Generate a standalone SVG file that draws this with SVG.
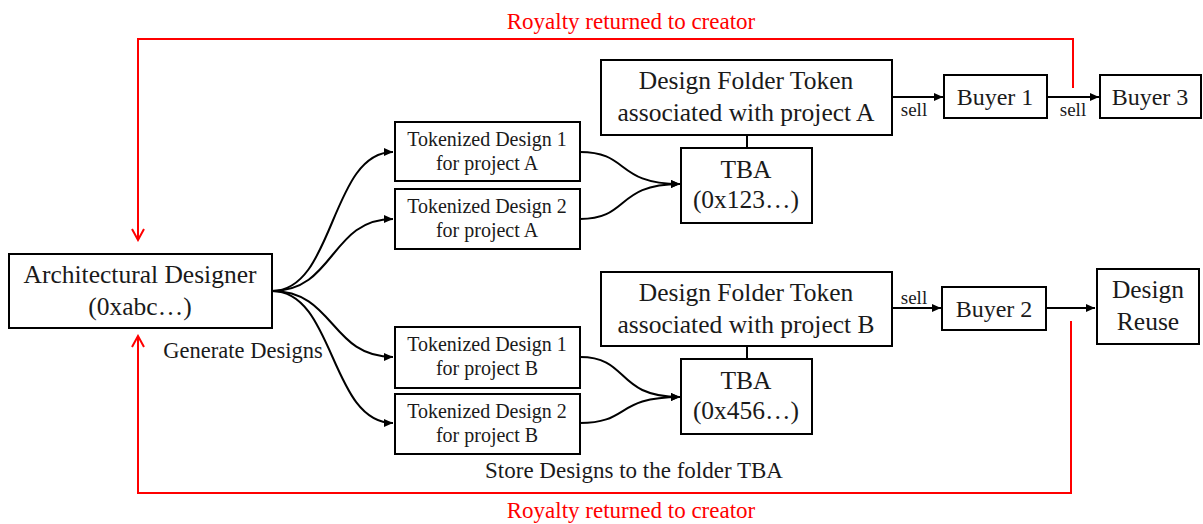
<svg xmlns="http://www.w3.org/2000/svg" width="1203" height="524" viewBox="0 0 1203 524">
<style>
.box{fill:#fff;stroke:#000;stroke-width:2}
.t{font-family:"Liberation Serif",serif;fill:#1a1a1a;text-anchor:middle}
.big{font-size:25.5px}
.mid{font-size:20px}
.lbl{font-size:19px}
.red{fill:#ff0000;font-size:23px}
.c{fill:none;stroke:#000;stroke-width:2}
.r{fill:none;stroke:#ff0000;stroke-width:2}
</style>
<defs>
<marker id="ah" markerWidth="10" markerHeight="10" refX="9" refY="5" orient="auto" markerUnits="userSpaceOnUse">
<path d="M0,1 L9,5 L0,9 Z" fill="#000"/>
</marker>
<marker id="rh" markerWidth="14" markerHeight="14" refX="12" refY="7" orient="auto" markerUnits="userSpaceOnUse">
<path d="M1,1 L12,7 L1,13" fill="none" stroke="#ff0000" stroke-width="2"/>
</marker>
</defs>
<g id="connectors">
<path class="c" d="M272,291 C335,291 330,152 393,152" marker-end="url(#ah)"/>
<path class="c" d="M272,291 C335,291 330,219 393,219" marker-end="url(#ah)"/>
<path class="c" d="M272,291 C335,291 330,357 393,357" marker-end="url(#ah)"/>
<path class="c" d="M272,291 C335,291 330,423 393,423" marker-end="url(#ah)"/>
<path class="c" d="M580,152 C630,152 615,184 680,184" marker-end="url(#ah)"/>
<path class="c" d="M580,219 C630,219 615,184 680,184" marker-end="url(#ah)"/>
<path class="c" d="M580,357 C630,357 615,397 680,397" marker-end="url(#ah)"/>
<path class="c" d="M580,423 C630,423 615,397 680,397" marker-end="url(#ah)"/>
<line class="c" x1="747" y1="135" x2="747" y2="148"/>
<line class="c" x1="747" y1="346" x2="747" y2="359"/>
<line class="c" x1="892" y1="97" x2="943" y2="97" marker-end="url(#ah)"/>
<line class="c" x1="1047" y1="97" x2="1099" y2="97" marker-end="url(#ah)"/>
<line class="c" x1="892" y1="308" x2="941" y2="308" marker-end="url(#ah)"/>
<line class="c" x1="1046" y1="308" x2="1095" y2="308" marker-end="url(#ah)"/>
<text class="t lbl" x="914" y="116">sell</text>
<text class="t lbl" x="1073" y="116">sell</text>
<text class="t lbl" x="914" y="304">sell</text>
<polyline class="r" points="1073,88 1073,39 138,39 138,240" marker-end="url(#rh)"/>
<polyline class="r" points="1071,321 1071,493 138,493 138,336" marker-end="url(#rh)"/>
<text class="t red" x="631" y="29">Royalty returned to creator</text>
<text class="t red" x="631" y="518">Royalty returned to creator</text>
<text class="t" style="font-size:22.5px" x="243" y="358">Generate Designs</text>
<text class="t" style="font-size:23px" x="634" y="478">Store Designs to the folder TBA</text>
</g>
<g id="designer">
<rect class="box" x="9" y="254" width="263" height="74"/>
<text class="t big" x="140" y="283">Architectural Designer</text>
<text class="t big" x="140" y="315">(0xabc…)</text>
</g>
<g id="td1a">
<rect class="box" x="395" y="122" width="185" height="59"/>
<text class="t mid" x="487" y="146">Tokenized Design 1</text>
<text class="t mid" x="487" y="170">for project A</text>
</g>
<g id="td2a">
<rect class="box" x="395" y="189" width="185" height="60"/>
<text class="t mid" x="487" y="213">Tokenized Design 2</text>
<text class="t mid" x="487" y="237">for project A</text>
</g>
<g id="td1b">
<rect class="box" x="395" y="327" width="185" height="61"/>
<text class="t mid" x="487" y="351">Tokenized Design 1</text>
<text class="t mid" x="487" y="375">for project B</text>
</g>
<g id="td2b">
<rect class="box" x="395" y="394" width="185" height="60"/>
<text class="t mid" x="487" y="418">Tokenized Design 2</text>
<text class="t mid" x="487" y="442">for project B</text>
</g>
<g id="dfta">
<rect class="box" x="601" y="60" width="291" height="75"/>
<text class="t big" x="746" y="89">Design Folder Token</text>
<text class="t big" x="746" y="121">associated with project A</text>
</g>
<g id="tbaa">
<rect class="box" x="681" y="148" width="131" height="75"/>
<text class="t big" x="746" y="178">TBA</text>
<text class="t big" x="746" y="208">(0x123…)</text>
</g>
<g id="dftb">
<rect class="box" x="601" y="272" width="291" height="74"/>
<text class="t big" x="746" y="301">Design Folder Token</text>
<text class="t big" x="746" y="333">associated with project B</text>
</g>
<g id="tbab">
<rect class="box" x="681" y="359" width="131" height="75"/>
<text class="t big" x="746" y="389">TBA</text>
<text class="t big" x="746" y="419">(0x456…)</text>
</g>
<g id="buyer1">
<rect class="box" x="944" y="75" width="103" height="43"/>
<text class="t" style="font-size:24px" x="995" y="105">Buyer 1</text>
</g>
<g id="buyer3">
<rect class="box" x="1100" y="75" width="101" height="43"/>
<text class="t" style="font-size:24px" x="1150" y="105">Buyer 3</text>
</g>
<g id="buyer2">
<rect class="box" x="942" y="287" width="104" height="43"/>
<text class="t" style="font-size:24px" x="994" y="317">Buyer 2</text>
</g>
<g id="reuse">
<rect class="box" x="1097" y="269" width="102" height="75"/>
<text class="t big" x="1148" y="298">Design</text>
<text class="t big" x="1148" y="330">Reuse</text>
</g>
</svg>
